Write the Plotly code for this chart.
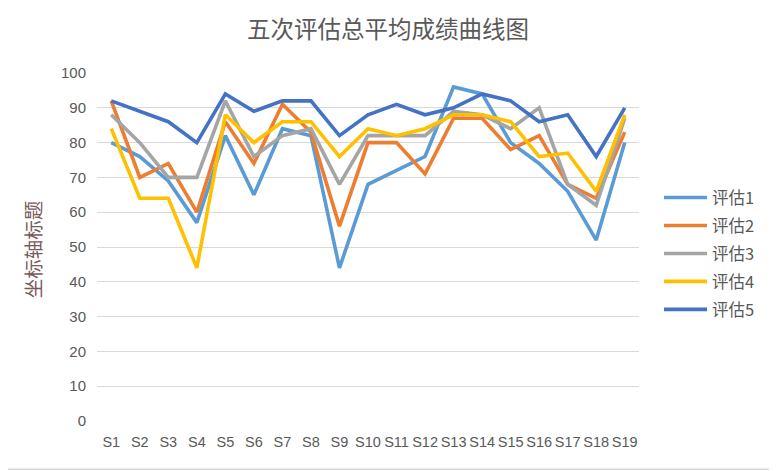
import plotly.graph_objects as go

categories = ["S%d" % i for i in range(1, 20)]
series_names = ["评估1", "评估2", "评估3", "评估4", "评估5"]
s1 = [80, 76, 69, 57, 82, 65, 84, 82, 44, 68, 72, 76, 96, 94, 80, 74, 66, 52, 80]
s2 = [92, 70, 74, 60, 86, 74, 91, 83, 56, 80, 80, 71, 87, 87, 78, 82, 68, 64, 83]
s3 = [88, 80, 70, 70, 92, 76, 82, 84, 68, 82, 82, 82, 89, 88, 84, 90, 68, 62, 87]
s4 = [84, 64, 64, 44, 88, 80, 86, 86, 76, 84, 82, 84, 88, 88, 86, 76, 77, 66, 88]
s5 = [92, 89, 86, 80, 94, 89, 92, 92, 82, 88, 91, 88, 90, 94, 92, 86, 88, 76, 90]
y_ticks = [0, 10, 20, 30, 40, 50, 60, 70, 80, 90, 100]

colors = ["#5B9BD5", "#ED7D31", "#A5A5A5", "#FFC000", "#4472C4"]
all_series = [s1, s2, s3, s4, s5]

# page is offset by the 8px body margin; work in figure coordinates
OFF = 8
W, H = 769, 463
L = 97 - OFF
T = 72.7 - OFF
plot_right = 639 - OFF
plot_bottom = 420.7 - OFF
R = W - plot_right
B = H - plot_bottom
pw = plot_right - L
ph = plot_bottom - T

fig = go.Figure()
for i, (name, vals) in enumerate(zip(series_names, all_series)):
    fig.add_trace(go.Scatter(
        x=categories, y=vals, name=name, mode="lines",
        line=dict(color=colors[i], width=3.6),
        legendgroup="g%d" % i,
    ))

txt = "#595959"
fig.update_layout(
    width=W, height=H,
    margin=dict(l=L, r=R, t=T, b=B, autoexpand=False),
    paper_bgcolor="white", plot_bgcolor="white",
    title=dict(text="五次评估总平均成绩曲线图", x=(388 - OFF) / W, xref="container", xanchor="center",
               y=1 - (30 - OFF) / H, yref="container", yanchor="middle",
               font=dict(family="Noto Sans CJK SC", size=23.5, color=txt)),
    font=dict(family="Liberation Sans", size=14, color=txt),
    legend=dict(x=(659 - OFF - L) / pw, xanchor="left",
                y=(plot_bottom - (253.5 - OFF)) / ph, yanchor="middle",
                font=dict(family="Noto Sans CJK SC", size=16.5, color=txt),
                tracegroupgap=3.5, itemwidth=43, bgcolor="rgba(0,0,0,0)"),
    showlegend=True,
)
fig.update_xaxes(type="category", range=[-0.5, 18.5], showgrid=False, zeroline=False,
                 showline=False, ticks="", ticklabelstandoff=10,
                 tickfont=dict(size=14.5, color=txt))
fig.update_yaxes(range=[0, 100], tickvals=y_ticks, showgrid=True, gridcolor="#D9D9D9",
                 gridwidth=1, zeroline=False, showline=False, ticks="",
                 ticklabelstandoff=10, tickfont=dict(size=15, color=txt))

fig.add_annotation(text="坐标轴标题", textangle=-90, xref="paper", yref="paper",
                   x=(32 - OFF - L) / pw, y=(plot_bottom - (249 - OFF)) / ph, showarrow=False,
                   xanchor="center", yanchor="middle",
                   font=dict(family="Noto Sans CJK SC", size=19.5, color="#7a5a5a"))

# outer chart border (bottom edge visible in the frame)
bx = (772 - OFF - L) / pw
by = (plot_bottom - (469 - OFF)) / ph
lx = (0 - L) / pw
fig.add_shape(type="line", xref="paper", yref="paper", x0=lx, x1=bx, y0=by, y1=by,
              line=dict(color="#D9D9D9", width=1.5), layer="below")

fig.write_html("out.html")
